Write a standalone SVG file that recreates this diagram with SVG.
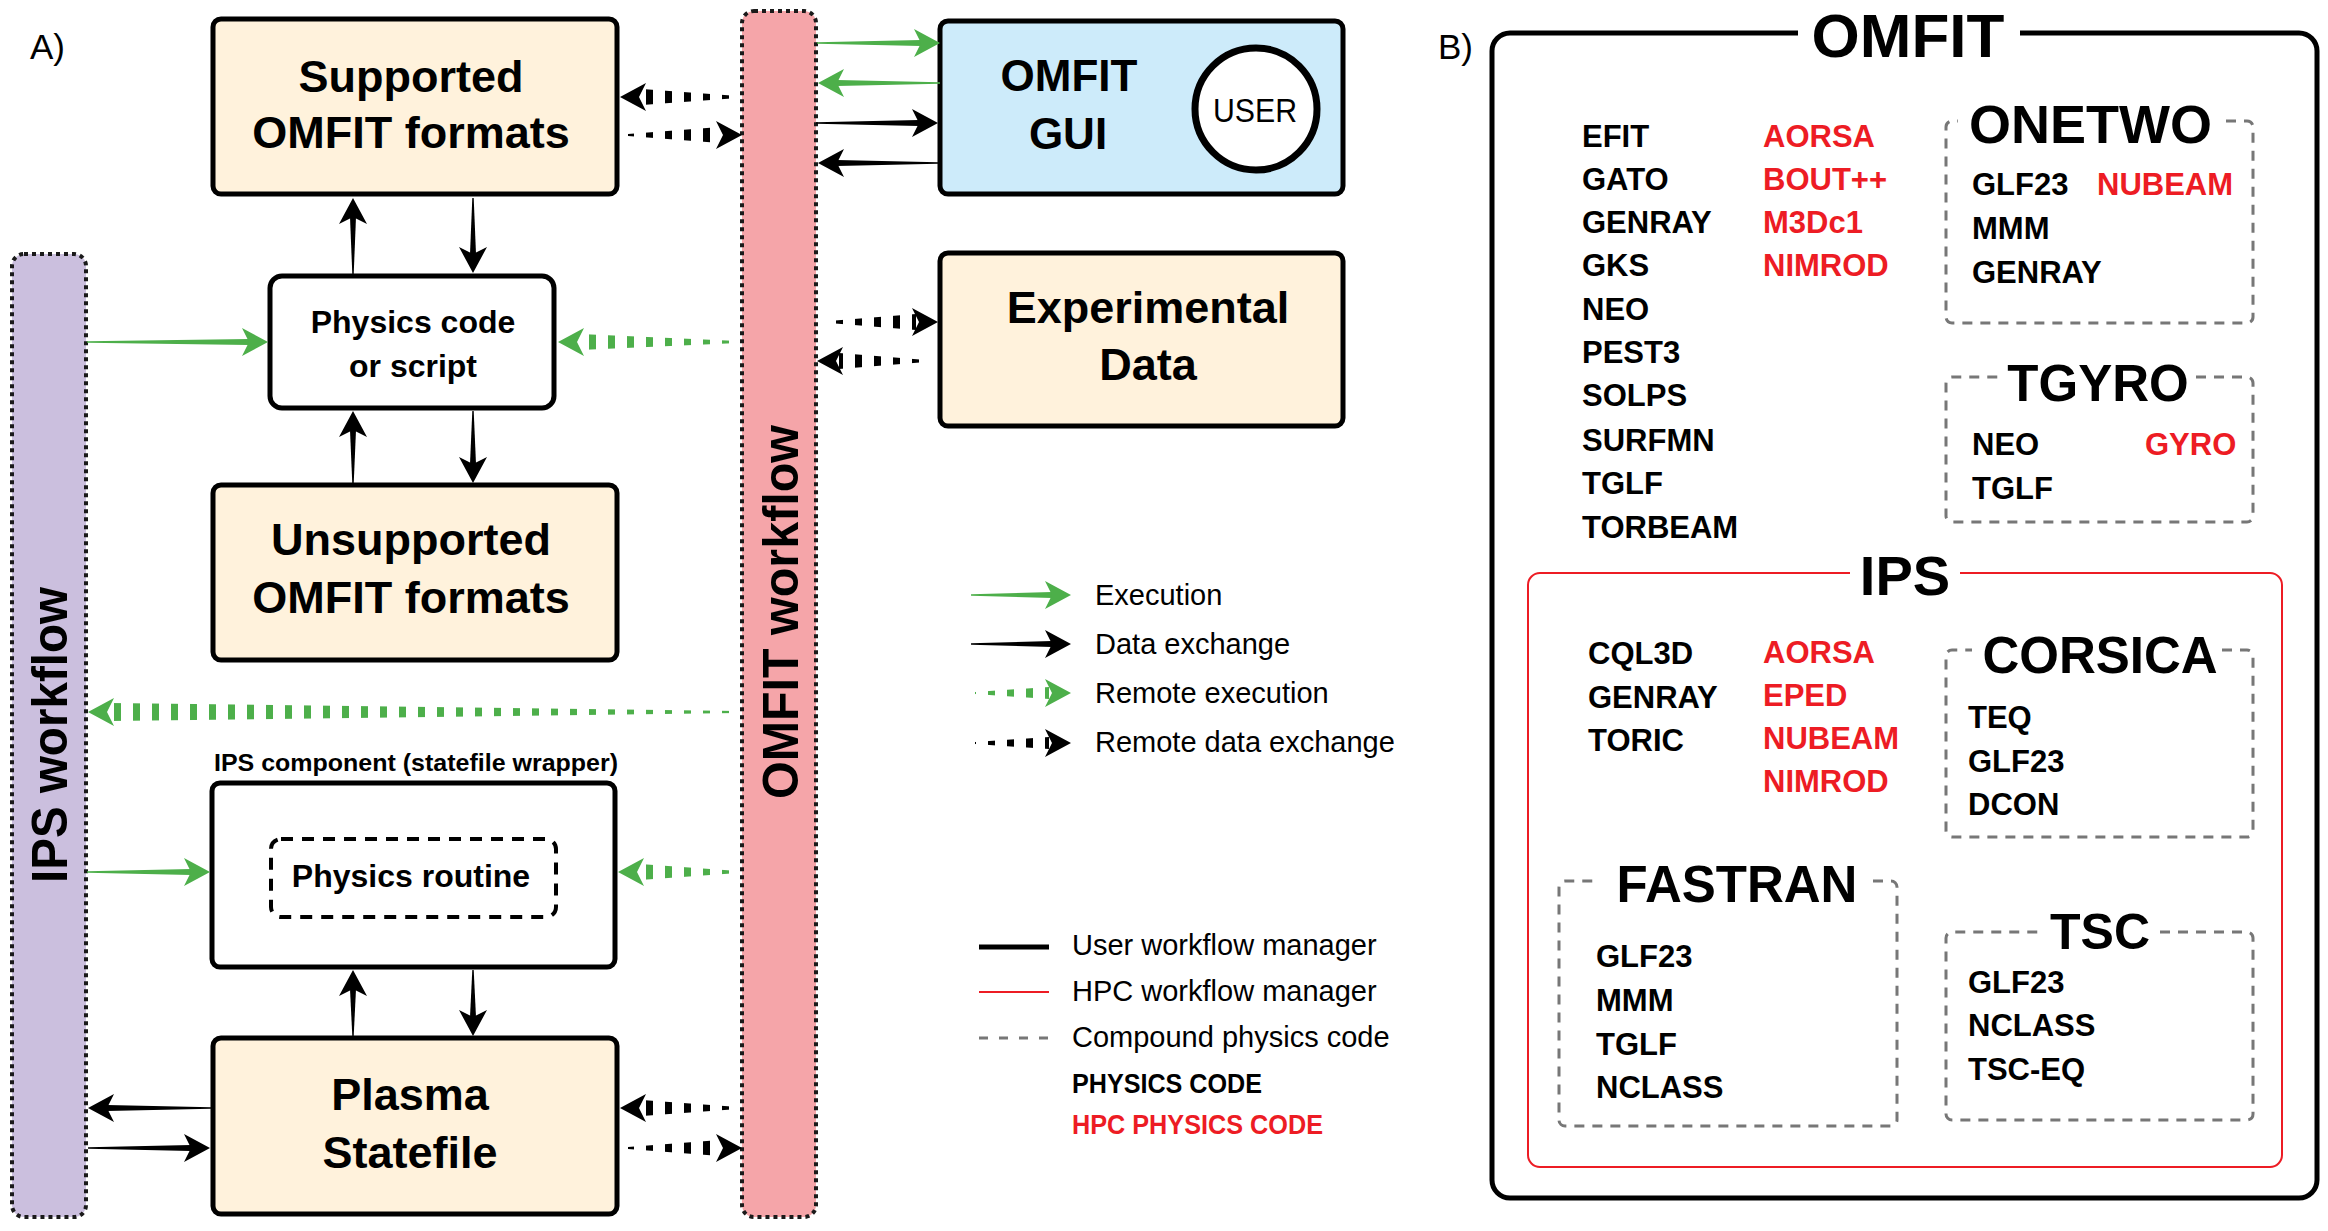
<svg xmlns="http://www.w3.org/2000/svg" xmlns:xlink="http://www.w3.org/1999/xlink" width="2328" height="1231" viewBox="0 0 2328 1231">
<style>
.b{font-family:"Liberation Sans",Arial,sans-serif;font-weight:bold;fill:#000}
.r{font-family:"Liberation Sans",Arial,sans-serif;fill:#000}
.red{fill:#ED1C24}
.box{stroke:#000;stroke-width:5}
.beige{fill:#FFF2DC}
.white{fill:#fff}
.col{stroke:#1a1a1a;stroke-width:4;stroke-dasharray:4 4}
.gd{fill:none;stroke:#777;stroke-width:3;stroke-dasharray:10 8}
.k{fill:#000}
.g{fill:#4DAF4A}
.kd{fill:url(#dk)}
.gdash{fill:url(#dg)}
.it{font-size:31px}
.mid{text-anchor:middle}
</style>
<defs>
<path id="ah" d="M0,0 L-26,-14 L-19,0 L-26,14 Z"/>
<pattern id="dg" patternUnits="userSpaceOnUse" width="19" height="60"><rect x="0" y="0" width="7" height="60" fill="#4DAF4A"/></pattern>
<pattern id="dk" patternUnits="userSpaceOnUse" width="19" height="60"><rect x="0" y="0" width="7" height="60" fill="#000"/></pattern>
</defs>
<rect width="2328" height="1231" fill="#fff"/>

<text class="r" x="30" y="59" font-size="35">A)</text>
<text class="r" x="1438" y="59" font-size="35">B)</text>

<g id="ips-workflow">
<rect class="col" x="12" y="254" width="74" height="963" rx="12" fill="#CBBFDE"/>
<text class="b mid" transform="translate(67,735) rotate(-90)" font-size="50" textLength="296" lengthAdjust="spacingAndGlyphs">IPS workflow</text>
</g>
<g id="omfit-workflow">
<rect class="col" x="742" y="11" width="74" height="1206" rx="12" fill="#F5A5A9"/>
<text class="b mid" transform="translate(798,612) rotate(-90)" font-size="50" textLength="374" lengthAdjust="spacingAndGlyphs">OMFIT workflow</text>
</g>

<g id="supported">
<rect class="box beige" x="213" y="19" width="404" height="175" rx="8"/>
<text class="b mid" x="411" y="92" font-size="45">Supported</text>
<text class="b mid" x="411" y="148" font-size="45">OMFIT formats</text>
</g>
<g id="physics-code">
<rect class="box white" x="270" y="276" width="284" height="132" rx="12"/>
<text class="b mid" x="413" y="333" font-size="32">Physics code</text>
<text class="b mid" x="413" y="377" font-size="32">or script</text>
</g>
<g id="unsupported">
<rect class="box beige" x="213" y="485" width="404" height="175" rx="8"/>
<text class="b mid" x="411" y="555" font-size="45">Unsupported</text>
<text class="b mid" x="411" y="613" font-size="45">OMFIT formats</text>
</g>
<g id="ips-component">
<text class="b mid" x="416" y="771" font-size="24" textLength="404" lengthAdjust="spacingAndGlyphs">IPS component (statefile wrapper)</text>
<rect class="box white" x="212" y="783" width="403" height="184" rx="8"/>
<rect x="271" y="839" width="285" height="78" rx="10" fill="none" stroke="#000" stroke-width="4" stroke-dasharray="12 9"/>
<text class="b mid" x="411" y="887" font-size="32">Physics routine</text>
</g>
<g id="plasma-statefile">
<rect class="box beige" x="213" y="1038" width="404" height="176" rx="8"/>
<text class="b mid" x="410" y="1110" font-size="45">Plasma</text>
<text class="b mid" x="410" y="1168" font-size="45">Statefile</text>
</g>
<g id="omfit-gui">
<rect class="box" x="940" y="21" width="403" height="173" rx="8" fill="#CDEBFA"/>
<text class="b mid" x="1069" y="91" font-size="44">OMFIT</text>
<text class="b mid" x="1068" y="149" font-size="44">GUI</text>
<circle cx="1256" cy="109" r="61" fill="#fff" stroke="#000" stroke-width="7"/>
<text class="r mid" x="1255" y="122" font-size="34" textLength="84" lengthAdjust="spacingAndGlyphs">USER</text>
</g>
<g id="experimental-data">
<rect class="box beige" x="940" y="253" width="403" height="173" rx="8"/>
<text class="b mid" x="1148" y="323" font-size="45">Experimental</text>
<text class="b mid" x="1148" y="380" font-size="45">Data</text>
</g>

<g id="connectors">
<!-- vertical data exchange -->
<polygon class="k" points="352.3,274 350,217 356,217 353.7,274"/><use href="#ah" class="k" transform="translate(353,198) rotate(-90)"/>
<polygon class="k" points="472.3,198 470,254 476,254 473.7,198"/><use href="#ah" class="k" transform="translate(473,273) rotate(90)"/>
<polygon class="k" points="352.3,484 350,430 356,430 353.7,484"/><use href="#ah" class="k" transform="translate(353,411) rotate(-90)"/>
<polygon class="k" points="472.3,411 470,464 476,464 473.7,411"/><use href="#ah" class="k" transform="translate(473,483) rotate(90)"/>
<polygon class="k" points="352.3,1036 350,989 356,989 353.7,1036"/><use href="#ah" class="k" transform="translate(353,970) rotate(-90)"/>
<polygon class="k" points="472.3,970 470,1017 476,1017 473.7,970"/><use href="#ah" class="k" transform="translate(473,1036) rotate(90)"/>
<!-- horizontal data exchange -->
<polygon class="k" points="211,1107.3 107,1105 107,1111 211,1108.7"/><use href="#ah" class="k" transform="translate(88,1108) rotate(180)"/>
<polygon class="k" points="88,1147.3 191,1145 191,1151 88,1148.7"/><use href="#ah" class="k" transform="translate(210,1148)"/>
<polygon class="k" points="816,122.3 919,120 919,126 816,123.7"/><use href="#ah" class="k" transform="translate(938,123)"/>
<polygon class="k" points="938,162.3 837,160 837,166 938,163.7"/><use href="#ah" class="k" transform="translate(818,163) rotate(180)"/>
<!-- execution -->
<polygon class="g" points="87,341.3 249,339 249,345 87,342.7"/><use href="#ah" class="g" transform="translate(268,342)"/>
<polygon class="g" points="87,871.3 191,869 191,875 87,872.7"/><use href="#ah" class="g" transform="translate(210,872)"/>
<polygon class="g" points="817,42.3 921,40 921,46 817,43.7"/><use href="#ah" class="g" transform="translate(940,43)"/>
<polygon class="g" points="940,82.3 837,80 837,86 940,83.7"/><use href="#ah" class="g" transform="translate(818,83) rotate(180)"/>
<!-- remote execution -->
<polygon class="gdash" points="738,341 580,334 580,350 738,343"/><use href="#ah" class="g" transform="translate(558,342) rotate(180)"/>
<polygon class="gdash" points="738,711 110,703 110,721 738,713"/><use href="#ah" class="g" transform="translate(88,712) rotate(180)"/>
<polygon class="gdash" points="738,871 640,864 640,880 738,873"/><use href="#ah" class="g" transform="translate(618,872) rotate(180)"/>
<!-- remote data exchange -->
<polygon class="kd" points="738,96 642,89 642,105 738,98"/><use href="#ah" class="k" transform="translate(620,97) rotate(180)"/>
<polygon class="kd" points="628,134 720,127 720,143 628,136"/><use href="#ah" class="k" transform="translate(742,135)"/>
<polygon class="kd" points="738,1107 642,1100 642,1116 738,1109"/><use href="#ah" class="k" transform="translate(620,1108) rotate(180)"/>
<polygon class="kd" points="628,1147 720,1140 720,1156 628,1149"/><use href="#ah" class="k" transform="translate(742,1148)"/>
<polygon class="kd" points="829,321 916,314 916,330 829,323"/><use href="#ah" class="k" transform="translate(938,322)"/>
<polygon class="kd" points="926,360 839,353 839,369 926,362"/><use href="#ah" class="k" transform="translate(817,361) rotate(180)"/>
</g>

<g id="legend">
<polygon class="g" points="971,594.3 1052,592 1052,598 971,595.7"/><use href="#ah" class="g" transform="translate(1071,595)"/>
<text class="r" x="1095" y="605" font-size="29">Execution</text>
<polygon class="k" points="971,643.3 1052,641 1052,647 971,644.7"/><use href="#ah" class="k" transform="translate(1071,644)"/>
<text class="r" x="1095" y="654" font-size="29">Data exchange</text>
<polygon class="gdash" points="975,692 1049,687 1049,699 975,694"/><use href="#ah" class="g" transform="translate(1071,693)"/>
<text class="r" x="1095" y="703" font-size="29">Remote execution</text>
<polygon class="kd" points="975,742 1049,737 1049,749 975,744"/><use href="#ah" class="k" transform="translate(1071,743)"/>
<text class="r" x="1095" y="752" font-size="29">Remote data exchange</text>
<line x1="979" y1="947" x2="1049" y2="947" stroke="#000" stroke-width="5"/>
<text class="r" x="1072" y="955" font-size="29">User workflow manager</text>
<line x1="979" y1="992" x2="1049" y2="992" stroke="#ED1C24" stroke-width="2"/>
<text class="r" x="1072" y="1001" font-size="29">HPC workflow manager</text>
<line x1="979" y1="1038" x2="1049" y2="1038" stroke="#777" stroke-width="3" stroke-dasharray="9 11"/>
<text class="r" x="1072" y="1047" font-size="29">Compound physics code</text>
<text class="b" x="1072" y="1093" font-size="27" textLength="190" lengthAdjust="spacingAndGlyphs">PHYSICS CODE</text>
<text class="b red" x="1072" y="1134" font-size="27" textLength="251" lengthAdjust="spacingAndGlyphs">HPC PHYSICS CODE</text>
</g>

<g id="omfit-panel">
<path d="M2020,33 H2299 A18,18 0 0 1 2317,51 V1180 A18,18 0 0 1 2299,1198 H1510 A18,18 0 0 1 1492,1180 V51 A18,18 0 0 1 1510,33 H1798" fill="none" stroke="#000" stroke-width="5"/>
<text class="b mid" x="1908" y="57" font-size="62">OMFIT</text>
<g class="b it">
<text x="1582" y="147">EFIT</text>
<text x="1582" y="190">GATO</text>
<text x="1582" y="233">GENRAY</text>
<text x="1582" y="276">GKS</text>
<text x="1582" y="320">NEO</text>
<text x="1582" y="363">PEST3</text>
<text x="1582" y="406">SOLPS</text>
<text x="1582" y="451">SURFMN</text>
<text x="1582" y="494">TGLF</text>
<text x="1582" y="538">TORBEAM</text>
<text class="red" x="1763" y="147">AORSA</text>
<text class="red" x="1763" y="190">BOUT++</text>
<text class="red" x="1763" y="233">M3Dc1</text>
<text class="red" x="1763" y="276">NIMROD</text>
</g>
</g>
<g id="onetwo">
<path class="gd" d="M2226,121 H2247 A6,6 0 0 1 2253,127 V317 A6,6 0 0 1 2247,323 H1952 A6,6 0 0 1 1946,317 V127 A6,6 0 0 1 1952,121 H1958"/>
<text class="b" x="1969" y="143" font-size="54">ONETWO</text>
<g class="b it">
<text x="1972" y="195">GLF23</text>
<text class="red" x="2097" y="195">NUBEAM</text>
<text x="1972" y="239">MMM</text>
<text x="1972" y="283">GENRAY</text>
</g>
</g>
<g id="tgyro">
<path class="gd" d="M2196,377 H2247 A6,6 0 0 1 2253,383 V516 A6,6 0 0 1 2247,522 H1952 A6,6 0 0 1 1946,516 V383 A6,6 0 0 1 1952,377 H2000"/>
<text class="b mid" x="2098" y="401" font-size="51">TGYRO</text>
<g class="b it">
<text x="1972" y="455">NEO</text>
<text class="red" x="2145" y="455">GYRO</text>
<text x="1972" y="499">TGLF</text>
</g>
</g>
<g id="ips">
<path d="M1960,573 H2270 A12,12 0 0 1 2282,585 V1155 A12,12 0 0 1 2270,1167 H1540 A12,12 0 0 1 1528,1155 V585 A12,12 0 0 1 1540,573 H1850" fill="none" stroke="#ED1C24" stroke-width="2"/>
<text class="b mid" x="1905" y="595" font-size="56">IPS</text>
<g class="b it">
<text x="1588" y="664">CQL3D</text>
<text x="1588" y="708">GENRAY</text>
<text x="1588" y="751">TORIC</text>
<text class="red" x="1763" y="663">AORSA</text>
<text class="red" x="1763" y="706">EPED</text>
<text class="red" x="1763" y="749">NUBEAM</text>
<text class="red" x="1763" y="792">NIMROD</text>
</g>
</g>
<g id="corsica">
<path class="gd" d="M2222,650 H2247 A6,6 0 0 1 2253,656 V831 A6,6 0 0 1 2247,837 H1952 A6,6 0 0 1 1946,831 V656 A6,6 0 0 1 1952,650 H1972"/>
<text class="b mid" x="2100" y="673" font-size="51">CORSICA</text>
<g class="b it">
<text x="1968" y="728">TEQ</text>
<text x="1968" y="772">GLF23</text>
<text x="1968" y="815">DCON</text>
</g>
</g>
<g id="fastran">
<path class="gd" d="M1873,881 H1891 A6,6 0 0 1 1897,887 V1120 A6,6 0 0 1 1891,1126 H1565 A6,6 0 0 1 1559,1120 V887 A6,6 0 0 1 1565,881 H1598"/>
<text class="b mid" x="1737" y="902" font-size="51">FASTRAN</text>
<g class="b it">
<text x="1596" y="967">GLF23</text>
<text x="1596" y="1011">MMM</text>
<text x="1596" y="1055">TGLF</text>
<text x="1596" y="1098">NCLASS</text>
</g>
</g>
<g id="tsc">
<path class="gd" d="M2160,932 H2247 A6,6 0 0 1 2253,938 V1114 A6,6 0 0 1 2247,1120 H1952 A6,6 0 0 1 1946,1114 V938 A6,6 0 0 1 1952,932 H2040"/>
<text class="b mid" x="2100" y="949" font-size="50">TSC</text>
<g class="b it">
<text x="1968" y="993">GLF23</text>
<text x="1968" y="1036">NCLASS</text>
<text x="1968" y="1080">TSC-EQ</text>
</g>
</g>
</svg>
